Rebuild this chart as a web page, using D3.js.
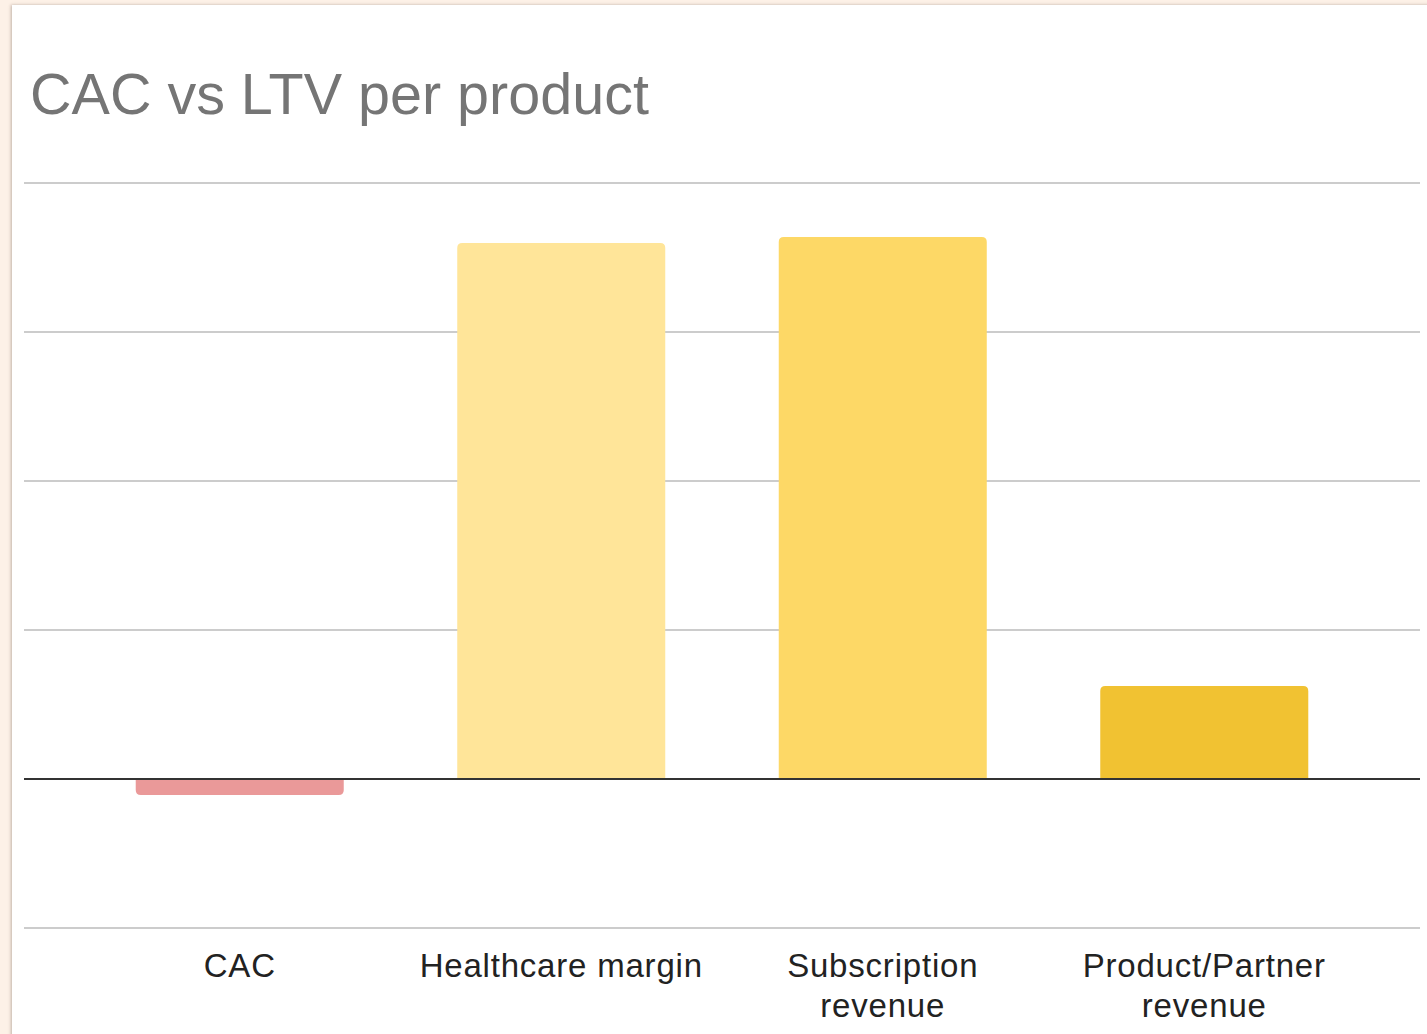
<!DOCTYPE html>
<html>
<head>
<meta charset="utf-8">
<script src="https://cdn.jsdelivr.net/npm/d3@7"></script>
<style>
  html, body { margin: 0; padding: 0; background: #fdf1e7; overflow: hidden; }
  #card {
    position: absolute; left: 12px; top: 5px; width: 1430px; height: 1040px;
    background: #fff; box-shadow: -1px 0 3px rgba(120, 100, 90, 0.45);
  }
  svg { position: absolute; left: 0; top: 0; }
  text { font-family: "Liberation Sans", Arial, sans-serif; }
</style>
</head>
<body>
<div id="card"></div>
<script>
// chart values (gridline step = 100)
const categories = ["CAC", "Healthcare margin", "Subscription revenue", "Product/Partner revenue"];
const labelLines = [["CAC"], ["Healthcare margin"], ["Subscription", "revenue"], ["Product/Partner", "revenue"]];
const values = [-10.7, 359.7, 363.8, 62.4];
const barColors = ["#ea9999", "#ffe599", "#fdd866", "#f1c232"];
const gridValues = [-100, 0, 100, 200, 300, 400];

const width = 1427, height = 1034;
const svg = d3.select("body").append("svg").attr("width", width).attr("height", height);

const x = d3.scaleBand().domain(categories).range([24, 1420])
    .paddingInner(0.353).paddingOuter(0.3475);
const y = d3.scaleLinear().domain([-100, 400]).range([928, 183]);

// title
svg.append("text")
    .attr("x", 30).attr("y", 114)
    .attr("font-size", 57.5).attr("fill", "#757575")
    .text("CAC vs LTV per product");

// gridlines
svg.append("g").selectAll("line")
    .data(gridValues.filter(v => v !== 0)).join("line")
    .attr("x1", 24).attr("x2", 1420)
    .attr("y1", d => y(d)).attr("y2", d => y(d))
    .attr("stroke", "#cccccc").attr("stroke-width", 2);

// bars with rounded outer corners
const r = 5;
function barPath(d, i) {
    const x0 = x(categories[i]), x1 = x0 + x.bandwidth();
    const yb = y(0), yt = y(d);
    if (d >= 0) {
        return `M${x0},${yb}V${yt + r}Q${x0},${yt} ${x0 + r},${yt}H${x1 - r}Q${x1},${yt} ${x1},${yt + r}V${yb}Z`;
    }
    return `M${x0},${yb}V${yt - r}Q${x0},${yt} ${x0 + r},${yt}H${x1 - r}Q${x1},${yt} ${x1},${yt - r}V${yb}Z`;
}
svg.append("g").selectAll("path")
    .data(values).join("path")
    .attr("d", barPath)
    .attr("fill", (d, i) => barColors[i]);

// zero line
svg.append("line")
    .attr("x1", 24).attr("x2", 1420)
    .attr("y1", y(0)).attr("y2", y(0))
    .attr("stroke", "#333333").attr("stroke-width", 2);

// category labels
const lab = svg.append("g").selectAll("text")
    .data(categories).join("text")
    .attr("x", d => x(d) + x.bandwidth() / 2)
    .attr("y", 977)
    .attr("text-anchor", "middle")
    .attr("font-size", 33).attr("letter-spacing", 0.8).attr("fill", "#222222");
lab.selectAll("tspan")
    .data((d, i) => labelLines[i]).join("tspan")
    .attr("x", function() { return d3.select(this.parentNode).attr("x"); })
    .attr("dy", (d, i) => i === 0 ? 0 : 40)
    .text(d => d);
</script>
</body>
</html>
